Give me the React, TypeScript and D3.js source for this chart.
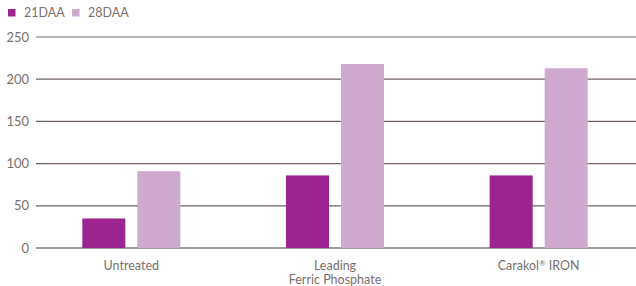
import * as d3 from "d3";

const categories = ["Untreated", "Leading\nFerric Phosphate", "Carakol® IRON"];
const series = ["21DAA", "28DAA"];
const values21 = [35, 86, 86];
const values28 = [91, 218, 213];
const yTicks = [0, 50, 100, 150, 200, 250];

const colors = ["#9b2490", "#cfaacf"];
const textColor = "#7a6f6e";
const gridColor = "#6f6161";

// render "®" as a small superscript, like the reference
function renderLine(line: string) {
  const parts = line.split("®");
  if (parts.length === 1) return line;
  return (
    <>
      {parts[0]}
      <tspan fontSize={8} dy={-4}>®</tspan>
      <tspan dy={4}>{parts[1]}</tspan>
    </>
  );
}

export default function App() {
  const width = 636;
  const height = 286;
  const font = "Lato, 'Noto Sans', sans-serif";

  const x = d3.scaleBand<string>().domain(categories).range([29.5, 640.5]).padding(0);
  const xi = d3
    .scaleBand<string>()
    .domain(series)
    .range([0, x.bandwidth()])
    .paddingInner(0.218)
    .paddingOuter(0.96);
  const y = d3.scaleLinear().domain([0, 250]).range([248, 37]);

  const rows = categories.map((c, i) => ({ c, vals: [values21[i], values28[i]] }));

  return (
    <svg
      width={width}
      height={height}
      style={{ position: "fixed", left: 0, top: 0, background: "#fff" }}
      fontFamily={font}
    >
      {/* legend */}
      {series.map((s, i) => (
        <g key={s} transform={`translate(${8 + i * 64},0)`}>
          <rect x={0} y={9} width={7.5} height={7.5} fill={colors[i]} />
          <text x={16} y={17} fontSize={12.5} fill={textColor}>
            {s}
          </text>
        </g>
      ))}

      {/* gridlines and y labels */}
      {yTicks.map((t) => (
        <g key={t}>
          <line
            x1={36}
            x2={636}
            y1={y(t)}
            y2={y(t)}
            stroke={t === 250 ? "#a39a99" : t === 0 ? "#85797a" : gridColor}
            strokeWidth={1.3}
          />
          <text x={29} y={y(t) + 4.5} textAnchor="end" fontSize={13} fill={textColor}>
            {t}
          </text>
        </g>
      ))}

      {/* bars */}
      {rows.map((r) =>
        r.vals.map((v, j) => (
          <rect
            key={r.c + j}
            x={(x(r.c) || 0) + (xi(series[j]) || 0)}
            y={y(v)}
            width={xi.bandwidth()}
            height={y(0) - y(v)}
            fill={colors[j]}
          />
        ))
      )}

      {/* x labels */}
      {categories.map((c) => {
        const cx = (x(c) || 0) + x.bandwidth() / 2;
        return (
          <text key={c} x={cx} y={270} textAnchor="middle" fontSize={12.5} fill={textColor}>
            {c.split("\n").map((line, k) => (
              <tspan key={k} x={cx} dy={k === 0 ? 0 : 14}>
                {renderLine(line)}
              </tspan>
            ))}
          </text>
        );
      })}
    </svg>
  );
}
